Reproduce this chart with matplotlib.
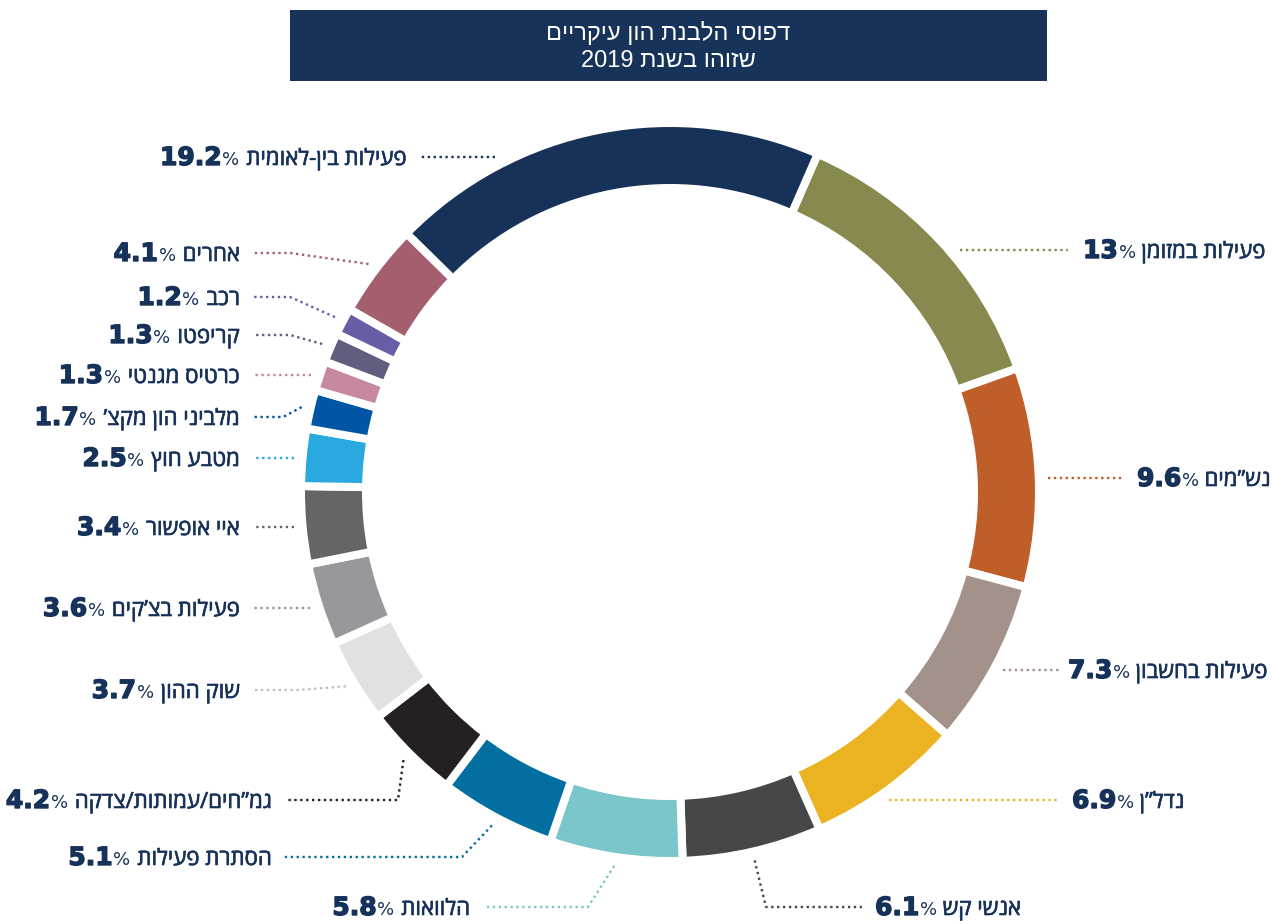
import matplotlib
matplotlib.use("Agg")
import matplotlib.pyplot as plt
import matplotlib.patheffects as pe
from matplotlib.patches import Rectangle
import numpy as np

plt.rcParams["font.family"] = ["DejaVu Sans"]

# data, clockwise from the top-right segment
categories = [
    "פעילות במזומן", "נש”מים", "פעילות בחשבון", "נדל”ן", "אנשי קש",
    "הלוואות", "הסתרת פעילות", "גמ”חים/עמותות/צדקה", "שוק ההון",
    "פעילות בצ’קים", "איי אופשור", "מטבע חוץ", "מלביני הון מקצ’",
    "כרטיס מגנטי", "קריפטו", "רכב", "אחרים", "פעילות בין-לאומית",
]
shares = [13, 9.6, 7.3, 6.9, 6.1, 5.8, 5.1, 4.2, 3.7, 3.6, 3.4, 2.5, 1.7, 1.3, 1.3, 1.2, 4.1, 19.2]
colors = [
    "#87894e", "#bf5e28", "#a39289", "#ebb321", "#464749", "#7bc6ca",
    "#026fa0", "#252122", "#e0e1e3", "#97989c", "#646567", "#2aa9e0",
    "#0055a4", "#c688a0", "#605e7e", "#675ea8", "#a55e6e", "#163258",
]
title_lines = ["דפוסי הלבנת הון עיקריים", "שזוהו בשנת"]
title_year = "2019"

# label layout (pixel coordinates, y from the top)
label_side = ["R"] * 5 + ["L"] * 13
label_y = [250, 478, 670, 800, 907, 907, 857, 800, 690, 608, 527, 458, 417, 375, 335, 297, 253, 157]
elbow_x = [None, None, None, None, 766, 588, 462, 398, 298, None, None, None, 283, None, 290, 290, 290, None]
line_end_x = [1068, 1122, 1062, 1057, 862, 487, 283, 287, 253, 253, 253, 253, 253, 253, 253, 253, 253, 420]
text_x = [1083, 1137, 1068, 1072, 875, 470, 272, 272, 240, 240, 240, 240, 240, 240, 240, 240, 240, 407]

W_PX, H_PX = 1272, 922
CX, CY = 670, H_PX - 492
R_OUT, R_IN = 365, 308
GAP_PX = 8
R_LEAD = 378
START_ANGLE = 66.4
NAVY = "#17325a"
HEB_FONT = ["Open Sans", "DejaVu Sans"]
TITLE_FONT = ["Liberation Sans", "DejaVu Sans"]
HEB_SIZE = 16
HEAVY = [pe.withStroke(linewidth=1.0, foreground=NAVY)]
MEDIUM = [pe.withStroke(linewidth=0.45, foreground=NAVY)]


def heb(s):
    # matplotlib has no bidi support, so lay Hebrew out in visual order
    return s[::-1]


def line_color(c):
    rgb = np.array(matplotlib.colors.to_rgb(c))
    if rgb.mean() > 0.8:
        rgb = rgb * 0.85
    return rgb


fig = plt.figure(figsize=(W_PX / 100, H_PX / 100), dpi=100)
ax = fig.add_axes([0, 0, 1, 1])

gap_pt = GAP_PX * 72 / 100
ax.pie(
    shares,
    colors=colors,
    startangle=START_ANGLE,
    counterclock=False,
    radius=R_OUT + GAP_PX / 2,
    center=(CX, CY),
    wedgeprops=dict(width=R_OUT - R_IN + GAP_PX, edgecolor="white", linewidth=gap_pt),
)
ax.set_xlim(0, W_PX)
ax.set_ylim(0, H_PX)
ax.set_aspect("equal")
ax.axis("off")

# title box
ax.add_patch(Rectangle((290, H_PX - 81), 757, 71, facecolor="#17335a", edgecolor="none"))
ax.text(668, H_PX - 33, heb(title_lines[0]), color="white", fontsize=17,
        family=TITLE_FONT, ha="center", va="center")
ax.text(668, H_PX - 61, title_year + " " + heb(title_lines[1]), color="white", fontsize=17,
        family=TITLE_FONT, ha="center", va="center")

cum = 0.0
for i, (name, v) in enumerate(zip(categories, shares)):
    a0 = START_ANGLE - 3.6 * cum
    a1 = a0 - 3.6 * v
    cum += v
    mid = np.radians((a0 + a1) / 2)

    y = H_PX - label_y[i]
    sign = 1 if label_side[i] == "R" else -1
    if elbow_x[i] is None:
        dx = np.sqrt(R_LEAD ** 2 - (y - CY) ** 2)
        xs = [CX + sign * dx, line_end_x[i]]
        ys = [y, y]
    else:
        xs = [CX + R_LEAD * np.cos(mid), elbow_x[i], line_end_x[i]]
        ys = [CY + R_LEAD * np.sin(mid), y, y]
    ax.plot(xs, ys, color=line_color(colors[i]), lw=1.7,
            linestyle=(0, (1, 1.5)), dash_capstyle="butt")

    yb = H_PX - (label_y[i] + 8)
    num = f"{v:g}"
    if label_side[i] == "R":
        t_num = ax.text(text_x[i], yb, num, color=NAVY, fontsize=18, fontweight="bold",
                        ha="left", va="baseline", path_effects=HEAVY)
        t_pct = ax.annotate("%", xy=(1, yb), xycoords=(t_num, "data"), xytext=(0.5, 0),
                            textcoords="offset points", color=NAVY, fontsize=13,
                            ha="left", va="baseline")
        ax.annotate(heb(name), xy=(1, yb), xycoords=(t_pct, "data"), xytext=(4, 0),
                    textcoords="offset points", color=NAVY, fontsize=HEB_SIZE,
                    family=HEB_FONT, ha="left", va="baseline", path_effects=MEDIUM)
    else:
        t_name = ax.text(text_x[i], yb, heb(name), color=NAVY, fontsize=HEB_SIZE,
                         family=HEB_FONT, ha="right", va="baseline", path_effects=MEDIUM)
        t_pct = ax.annotate("%", xy=(0, yb), xycoords=(t_name, "data"), xytext=(-5, 0),
                            textcoords="offset points", color=NAVY, fontsize=13,
                            ha="right", va="baseline")
        ax.annotate(num, xy=(0, yb), xycoords=(t_pct, "data"), xytext=(-0.5, 0),
                    textcoords="offset points", color=NAVY, fontsize=18,
                    fontweight="bold", ha="right", va="baseline", path_effects=HEAVY)

fig.savefig("out.png", dpi=100, facecolor="white")
